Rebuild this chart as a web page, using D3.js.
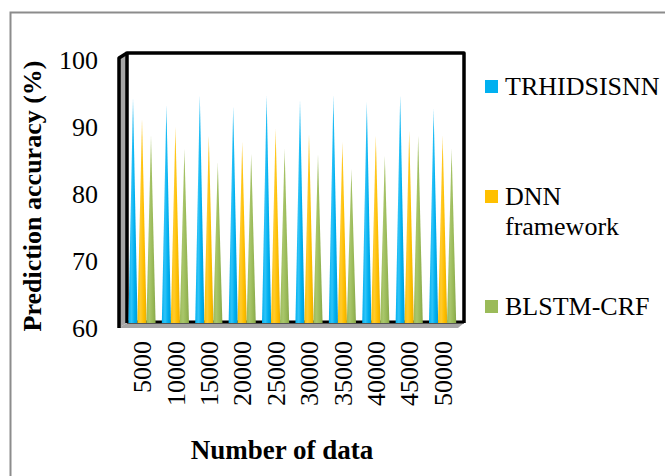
<!DOCTYPE html>
<html>
<head>
<meta charset="utf-8">
<script src="https://cdn.jsdelivr.net/npm/d3@7"></script>
<style>
  html, body { margin: 0; padding: 0; background: #fff; }
  svg { display: block; font-family: "Liberation Serif", "Times New Roman", serif; }
</style>
</head>
<body>
<svg id="chart" width="665" height="476"></svg>
<script>
// Data
const categories = ["5000", "10000", "15000", "20000", "25000", "30000", "35000", "40000", "45000", "50000"];
const seriesNames = ["TRHIDSISNN", "DNN framework", "BLSTM-CRF"];
const trhidsisnn = [93.6, 92.5, 94.0, 92.3, 94.0, 93.3, 94.0, 93.0, 94.0, 92.0];
const dnnFramework = [90.5, 89.3, 88.0, 87.0, 89.0, 88.2, 87.0, 88.0, 88.7, 88.0];
const blstmCrf = [88.0, 86.0, 84.0, 85.3, 86.0, 85.2, 83.0, 85.0, 88.0, 86.0];
const yTicks = [60, 70, 80, 90, 100];
const colors = ["#00B0F0", "#FFC000", "#9BBB59"];
const darkColors = ["#009BD8", "#ECAC00", "#88A84A"];
const lightColors = ["#30C4F8", "#FFCB30", "#A9C66C"];

const seriesValues = [trhidsisnn, dnnFramework, blstmCrf];
const FONT = 26;

const svg = d3.select("#chart");

// Outer frame lines
svg.append("path")
  .attr("d", "M10.5,476 L10.5,12.5 L665,12.5")
  .attr("fill", "none").attr("stroke", "#8c8c8c").attr("stroke-width", 2);

// Back wall and depth offset for the 3D box
const back = { left: 127, right: 464, top: 53, bottom: 323 };
const depth = { dx: -9, dy: 5 };

const x0 = d3.scaleBand().domain(categories).range([125.3, 459.3]).padding(0);
const x1 = d3.scaleBand().domain(d3.range(3)).range([3.2, 30.2]).padding(0);
const y = d3.scaleLinear().domain([60, 100]).range([back.bottom, back.top + 2]);

const defs = svg.append("defs");
colors.forEach((c, i) => {
  const g = defs.append("linearGradient").attr("id", "cone" + i)
    .attr("x1", "0%").attr("x2", "100%").attr("y1", "0%").attr("y2", "0%");
  g.append("stop").attr("offset", "0%").attr("stop-color", c);
  g.append("stop").attr("offset", "35%").attr("stop-color", lightColors[i]);
  g.append("stop").attr("offset", "65%").attr("stop-color", c);
  g.append("stop").attr("offset", "100%").attr("stop-color", darkColors[i]);
});
const fade = defs.append("linearGradient").attr("id", "tipFade")
  .attr("x1", "0%").attr("x2", "0%").attr("y1", "0%").attr("y2", "100%");
fade.append("stop").attr("offset", "0%").attr("stop-color", "#fff").attr("stop-opacity", 0.75);
fade.append("stop").attr("offset", "9%").attr("stop-color", "#fff").attr("stop-opacity", 0);
fade.append("stop").attr("offset", "100%").attr("stop-color", "#fff").attr("stop-opacity", 0);

// Left side wall
svg.append("path")
  .attr("d", `M${back.left},${back.top} L${back.left + depth.dx},${back.top + depth.dy} L${back.left + depth.dx},${back.bottom + depth.dy} L${back.left},${back.bottom} Z`)
  .attr("fill", "#a6a6a6").attr("stroke", "none");

// Floor
svg.append("path")
  .attr("d", `M${back.left},${back.bottom} L${back.right},${back.bottom} L${back.right + depth.dx + 3},${back.bottom + depth.dy} L${back.left + depth.dx},${back.bottom + depth.dy} Z`)
  .attr("fill", "#a6a6a6");

// Back wall outline
svg.append("path")
  .attr("d", `M${back.left},${back.bottom} L${back.left},${back.top} L${back.right},${back.top} L${back.right},${back.bottom}`)
  .attr("fill", "none").attr("stroke", "#000").attr("stroke-width", 3.5)
  .attr("stroke-linejoin", "round");
svg.append("line")
  .attr("x1", back.left).attr("x2", back.right)
  .attr("y1", back.bottom - 1).attr("y2", back.bottom - 1)
  .attr("stroke", "#000").attr("stroke-width", 3);

// Front-left edge of the box
svg.append("path")
  .attr("d", `M${back.left},${back.top} L${back.left + depth.dx + 1},${back.top + depth.dy} L${back.left + depth.dx + 1},${back.bottom + depth.dy}`)
  .attr("fill", "none").attr("stroke", "#000").attr("stroke-width", 3.5)
  .attr("stroke-linejoin", "round");

// Cones
const groups = svg.append("g").selectAll("g")
  .data(categories).join("g")
  .attr("transform", d => `translate(${x0(d)},0)`);

groups.each(function(cat, ci) {
  const g = d3.select(this);
  seriesValues.forEach((vals, si) => {
    const w = x1.bandwidth() * 1.02;
    const cx = x1(si) + x1.bandwidth() / 2;
    const pts = `M${cx - w / 2},${y(60)} L${cx},${y(vals[ci])} L${cx + w / 2},${y(60)} Z`;
    g.append("path").attr("d", pts).attr("fill", `url(#cone${si})`);
    g.append("path").attr("d", pts).attr("fill", "url(#tipFade)");
  });
});

// Y axis on the front plane
const yAxis = d3.axisLeft(y).tickValues(yTicks).tickSize(0).tickPadding(20);
const yg = svg.append("g")
  .attr("transform", `translate(${back.left + depth.dx},${depth.dy})`)
  .call(yAxis);
yg.select(".domain").remove();
yg.selectAll("text").attr("font-size", FONT).attr("fill", "#000")
  .attr("font-family", "Liberation Serif, serif");

// X axis labels, rotated
const xAxis = d3.axisBottom(x0).tickSize(0).tickPadding(0);
const xg = svg.append("g")
  .attr("transform", `translate(0,${back.bottom + depth.dy})`)
  .call(xAxis);
xg.select(".domain").remove();
xg.selectAll("text")
  .attr("font-size", FONT).attr("fill", "#000")
  .attr("font-family", "Liberation Serif, serif")
  .attr("text-anchor", "end")
  .attr("transform", "rotate(-90)")
  .attr("x", -13).attr("y", 0).attr("dy", "0.35em");

// Axis titles
svg.append("text")
  .attr("transform", "translate(41,196) rotate(-90)")
  .attr("text-anchor", "middle")
  .attr("font-size", FONT).attr("font-weight", "bold")
  .text("Prediction accuracy (%)");

svg.append("text")
  .attr("x", 282).attr("y", 459)
  .attr("text-anchor", "middle")
  .attr("font-size", 27).attr("font-weight", "bold")
  .text("Number of data");

// Legend
const legendItems = [
  { lines: ["TRHIDSISNN"], y: 95 },
  { lines: ["DNN", "framework"], y: 205 },
  { lines: ["BLSTM-CRF"], y: 315 }
];
const legend = svg.append("g");
legendItems.forEach((item, i) => {
  legend.append("rect")
    .attr("x", 485).attr("y", item.y - 15)
    .attr("width", 13).attr("height", 13)
    .attr("fill", colors[i]);
  const t = legend.append("text")
    .attr("x", 505).attr("y", item.y)
    .attr("font-size", FONT).attr("fill", "#000");
  item.lines.forEach((ln, k) => {
    t.append("tspan").attr("x", 505).attr("dy", k === 0 ? 0 : 30).text(ln);
  });
});
</script>
</body>
</html>
